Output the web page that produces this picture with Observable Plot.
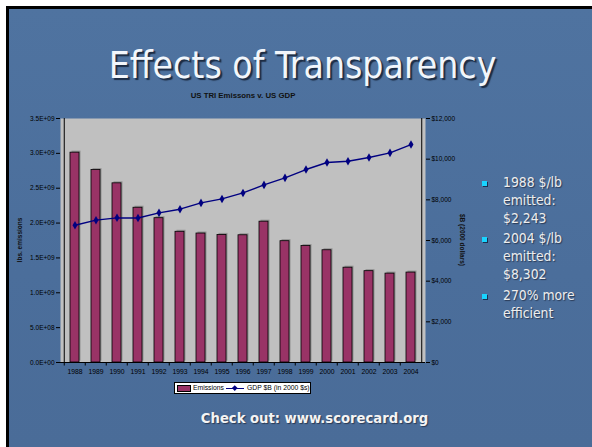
<!DOCTYPE html>
<html>
<head>
<meta charset="utf-8">
<script src="https://cdn.jsdelivr.net/npm/d3@7"></script>
<script src="https://cdn.jsdelivr.net/npm/@observablehq/plot@0.6"></script>
<style>
  html, body { margin: 0; padding: 0; background: #fff; }
  #slide { position: relative; width: 592px; height: 447px; overflow: hidden; background: #fff; }
  #blue { position: absolute; left: 6px; top: 6px; right: 0; bottom: 0;
    border-left: 3px solid #000; border-top: 3px solid #000;
    background: linear-gradient(180deg, #4f73a0 0%, #4b6e9b 60%, #4a6c98 100%); }
  .abs { position: absolute; white-space: nowrap; }
  #title { left: 0; width: 605px; top: 44px; text-align: center; font-family: "DejaVu Sans Condensed", "DejaVu Sans", sans-serif;
    font-size: 37px; font-stretch: condensed; color: #f2f6fb; text-shadow: 2px 2px 1px #1c2c44; }
  #ctitle { left: 143px; width: 200px; top: 91px; text-align: center; font: bold 7.8px "Liberation Sans", Arial, sans-serif; color: #111; }
  .bul { left: 503px; font-family: "DejaVu Sans Condensed", "DejaVu Sans", sans-serif; font-stretch: condensed; font-size: 13.8px; line-height: 18px; color: #eeeeee; text-shadow: 1px 1px 1px #2a3a55; }
  .sq { position: absolute; left: -21px; top: 8px; width: 5px; height: 5px; background: #19d3ff; box-shadow: 1px 1px 0 #1a3050; }
  #check { left: 0; width: 629px; top: 411px; text-align: center; font: bold 13.2px "DejaVu Sans", Verdana, sans-serif; color: #f4f4f4; text-shadow: 1px 1px 1px #2a3a55; }
  .ylab { font: bold 6.5px "Liberation Sans", Arial, sans-serif; color: #111; }
  #legend { left: 174px; top: 382px; width: 135px; height: 10px; background: #fff; border: 1px solid #000;
    font: 6.8px "Liberation Sans", Arial, sans-serif; color: #000; }
  #plotwrap { position: absolute; left: 0; top: 0; }
</style>
</head>
<body>
<div id="slide">
  <div id="blue"></div>
  <div id="plotwrap"></div>
  <div class="abs" id="title">Effects of Transparency</div>
  <div class="abs" id="ctitle">US TRI Emissons v. US GDP</div>
  <div class="abs ylab" style="left:19px; top:240px; transform: translate(-50%,-50%) rotate(-90deg);">lbs. emissions</div>
  <div class="abs ylab" style="left:462px; top:240px; transform: translate(-50%,-50%) rotate(90deg);">$B (2000 dollars)</div>
  <div class="abs" id="legend">
    <span style="position:absolute; left:2px; top:2px; width:12px; height:5px; background:#993366; border:0.8px solid #000;"></span>
    <span style="position:absolute; left:18px; top:0px; line-height:10px;">Emissions</span>
    <span style="position:absolute; left:51px; top:4.5px; width:18px; height:1.2px; background:#000080;"></span>
    <span style="position:absolute; left:58px; top:3px; width:3.5px; height:3.5px; background:#000080; transform: rotate(45deg);"></span>
    <span style="position:absolute; left:72px; top:0px; line-height:10px;">GDP $B (in 2000 $s)</span>
  </div>
  <div class="abs bul" style="top:173px;"><span class="sq"></span>1988 $/lb<br>emitted:<br>$2,243</div>
  <div class="abs bul" style="top:229px;"><span class="sq"></span>2004 $/lb<br>emitted:<br>$8,302</div>
  <div class="abs bul" style="top:286px;"><span class="sq"></span>270% more<br>efficient</div>
  <div class="abs" id="check">Check out: www.scorecard.org</div>
</div>
<script>
const years = ["1988","1989","1990","1991","1992","1993","1994","1995","1996","1997","1998","1999","2000","2001","2002","2003","2004"];
const emissions = [3.01e9, 2.76e9, 2.57e9, 2.22e9, 2.07e9, 1.875e9, 1.85e9, 1.83e9, 1.825e9, 2.02e9, 1.74e9, 1.67e9, 1.61e9, 1.36e9, 1.31e9, 1.275e9, 1.29e9];
const gdp = [6750, 7000, 7115, 7105, 7360, 7540, 7850, 8045, 8340, 8735, 9080, 9490, 9835, 9900, 10080, 10310, 10720];
const emissionTicks = [0, 5e8, 1e9, 1.5e9, 2e9, 2.5e9, 3e9, 3.5e9];
const gdpTicks = [0, 2000, 4000, 6000, 8000, 10000, 12000];

const data = years.map((year, i) => ({year, emissions: emissions[i], gdp: gdp[i]}));
const yMax = emissionTicks[emissionTicks.length - 1];
const gMax = gdpTicks[gdpTicks.length - 1];
const k = yMax / gMax;

const W = 592, H = 447, mL = 60, mR = 167, mT = 118, mB = 85;
const step = (W - mL - mR) / years.length;

function sci(v) {
  if (v === 0) return "0.0E+00";
  const e = Math.floor(Math.log10(v) + 1e-9);
  const m = v / Math.pow(10, e);
  return m.toFixed(1) + "E+" + String(e).padStart(2, "0");
}

const chart = Plot.plot({
  width: W, height: H,
  marginLeft: mL, marginRight: mR, marginTop: mT, marginBottom: mB,
  style: {background: "transparent", fontFamily: "'Liberation Sans', Arial, sans-serif", color: "#000", overflow: "visible"},
  x: {type: "band", domain: years, paddingInner: 0.58, paddingOuter: 0.29, label: null},
  y: {domain: [0, yMax], label: null},
  marks: [
    Plot.frame({fill: "#c0c0c0", stroke: "none"}),
    Plot.barY(data, {x: "year", y: "emissions", fill: "#6a6a6a", fillOpacity: 0.55, dx: 1.5, dy: -1.5}),
    Plot.barY(data, {x: "year", y: "emissions", fill: "#993366", stroke: "#000", strokeWidth: 0.8}),
    Plot.ruleY([0], {stroke: "#000"}),
    Plot.ruleX([years[0]], {dx: -step / 2, stroke: "#000"}),
    Plot.ruleX([years[years.length - 1]], {dx: step / 2, stroke: "#000"}),
    Plot.line(data, {x: "year", y: d => d.gdp * k, stroke: "#000080", strokeWidth: 1.4}),
    Plot.dot(data, {x: "year", y: d => d.gdp * k, symbol: "diamond", r: 2.6, fill: "#000080", stroke: "none"}),
    Plot.axisY({anchor: "left", ticks: emissionTicks, tickFormat: sci, tickSize: 4, tickPadding: 2, fontSize: 6.5, label: null}),
    Plot.axisY({anchor: "right", ticks: gdpTicks.map(v => v * k), tickFormat: v => "$" + d3.format(",")(Math.round(v / k)), tickSize: 4, tickPadding: 2, fontSize: 6.5, label: null}),
    Plot.axisX({tickSize: 0, tickPadding: 7, fontSize: 6.8, label: null}),
    Plot.axisX({tickSize: 3.5, tickFormat: () => "", dx: -step / 2, label: null})
  ]
});
document.getElementById("plotwrap").appendChild(chart);
</script>
</body>
</html>
